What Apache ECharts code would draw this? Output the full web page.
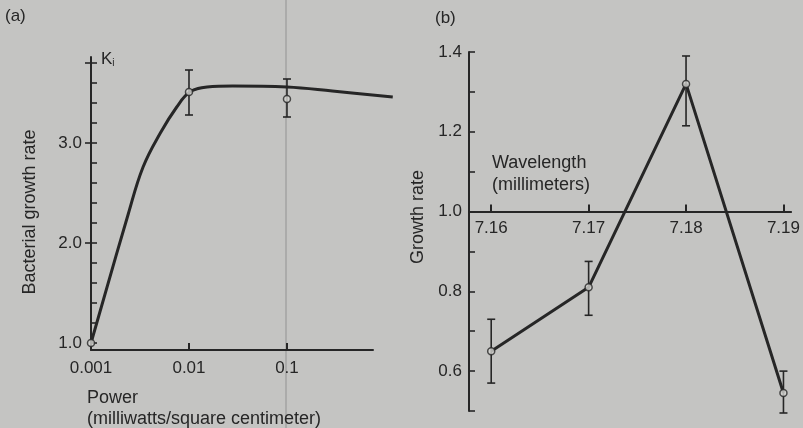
<!DOCTYPE html>
<html>
<head>
<meta charset="utf-8">
<script src="https://cdn.jsdelivr.net/npm/echarts@6/dist/echarts.min.js"></script>
<style>
  html, body { margin: 0; padding: 0; background: #c4c4c2; }
  #chart { width: 803px; height: 428px; }
</style>
</head>
<body>
<div id="chart"></div>
<script>
// panel (a): power (log scale) vs bacterial growth rate
var powerTicks = [0.001, 0.01, 0.1];
var rateTicks = [1.0, 2.0, 3.0];
var rateMinor = [1.0, 1.2, 1.4, 1.6, 1.8, 2.0, 2.2, 2.4, 2.6, 2.8, 3.0, 3.2, 3.4, 3.6, 3.8];
var curvePower = [0.001, 0.0024, 0.0034, 0.0051, 0.0075, 0.0102, 0.0153, 0.028, 0.1, 0.29, 1.2];
var curveRate = [1.0, 2.29, 2.76, 3.10, 3.36, 3.51, 3.56, 3.57, 3.56, 3.52, 3.46];
var pointPower = [0.001, 0.01, 0.1];
var pointRate = [1.0, 3.51, 3.44];
var pointLow = [null, 3.28, 3.26];
var pointHigh = [null, 3.73, 3.64];

// panel (b): wavelength vs growth rate
var waveTicks = [7.16, 7.17, 7.18, 7.19];
var growthTicks = [0.6, 0.8, 1.0, 1.2, 1.4];
var growthMinor = [0.5, 0.6, 0.7, 0.8, 0.9, 1.0, 1.1, 1.2, 1.3, 1.4];
var wavelength = [7.16, 7.17, 7.18, 7.19];
var growth = [0.65, 0.81, 1.32, 0.545];
var growthLow = [0.57, 0.74, 1.215, 0.495];
var growthHigh = [0.73, 0.875, 1.39, 0.60];

var ink = '#262626';
var paper = '#c4c4c2';
var font = 'Liberation Sans, Arial, sans-serif';

function pairs(xs, ys) {
  var out = [];
  for (var i = 0; i < xs.length; i++) {
    out.push([xs[i], ys[i]]);
  }
  return out;
}

function bars(xs, lo, hi) {
  var out = [];
  for (var i = 0; i < xs.length; i++) {
    if (lo[i] != null) out.push([xs[i], lo[i], hi[i]]);
  }
  return out;
}

// vertical error bar with small caps
function errorBar(params, api) {
  var x = api.value(0);
  var top = api.coord([x, api.value(2)]);
  var bot = api.coord([x, api.value(1)]);
  var w = 4;
  var st = { stroke: ink, lineWidth: 1.6 };
  return {
    type: 'group',
    children: [
      { type: 'line', shape: { x1: top[0], y1: top[1], x2: bot[0], y2: bot[1] }, style: st },
      { type: 'line', shape: { x1: top[0] - w, y1: top[1], x2: top[0] + w, y2: top[1] }, style: st },
      { type: 'line', shape: { x1: bot[0] - w, y1: bot[1], x2: bot[0] + w, y2: bot[1] }, style: st }
    ]
  };
}

var labelStyle = { color: ink, fontSize: 17, fontFamily: font };

var option = {
  backgroundColor: paper,
  animation: false,
  textStyle: { fontFamily: font, color: ink },
  grid: [
    { left: 91, top: 57, width: 282, height: 293 },
    { left: 469, top: 52, width: 334, height: 359 },
    // same scale as grid 0, but wide enough for the curve that runs past the axis end
    { left: 91, top: 57, width: 303.5, height: 293 }
  ],
  xAxis: [
    {
      type: 'log',
      gridIndex: 0,
      min: 0.001,
      max: 0.755,
      axisLine: { lineStyle: { color: ink, width: 2 } },
      axisTick: { inside: true, length: 7, lineStyle: { color: ink, width: 2 }, customValues: powerTicks },
      axisLabel: Object.assign({ margin: 10, customValues: powerTicks, formatter: function (v) { return String(+v.toPrecision(3)); } }, labelStyle),
      splitLine: { show: false }
    },
    {
      type: 'value',
      gridIndex: 1,
      min: 7.15772,
      max: 7.19079,
      offset: -199.4, // x axis crosses the y axis at 1.0
      axisLine: { onZero: false, lineStyle: { color: ink, width: 2 } },
      axisTick: { inside: true, length: 7, lineStyle: { color: ink, width: 2 }, customValues: waveTicks },
      axisLabel: Object.assign({ margin: 8, customValues: waveTicks, formatter: function (v) { return v.toFixed(2); } }, labelStyle),
      splitLine: { show: false }
    },
    {
      type: 'log',
      gridIndex: 2,
      min: 0.001,
      max: 1.25,
      show: false
    }
  ],
  yAxis: [
    {
      type: 'value',
      gridIndex: 0,
      position: 'left',
      min: 0.93,
      max: 3.86,
      axisLine: { show: true, lineStyle: { color: ink, width: 2 } },
      axisTick: { inside: true, length: 6, lineStyle: { color: ink, width: 1.6 }, customValues: rateMinor },
      axisLabel: { show: false },
      splitLine: { show: false }
    },
    {
      // major ticks poke outside and carry the labels
      type: 'value',
      gridIndex: 0,
      position: 'left',
      offset: 0,
      min: 0.93,
      max: 3.86,
      axisLine: { show: false },
      axisTick: { inside: false, length: 6, lineStyle: { color: ink, width: 1.6 }, customValues: [2.0, 3.0, 3.8] },
      axisLabel: Object.assign({ margin: 9, customValues: rateTicks, formatter: function (v) { return v.toFixed(1); } }, labelStyle),
      splitLine: { show: false }
    },
    {
      type: 'value',
      gridIndex: 1,
      position: 'left',
      min: 0.5,
      max: 1.4,
      axisLine: { show: true, lineStyle: { color: ink, width: 2 } },
      axisTick: { inside: true, length: 6, lineStyle: { color: ink, width: 1.6 }, customValues: growthMinor },
      axisLabel: Object.assign({ margin: 7, customValues: growthTicks, formatter: function (v) { return v.toFixed(1); } }, labelStyle),
      splitLine: { show: false }
    },
    {
      type: 'value',
      gridIndex: 2,
      min: 0.93,
      max: 3.86,
      show: false
    }
  ],
  series: [
    {
      type: 'line',
      xAxisIndex: 2,
      yAxisIndex: 3,
      data: pairs(curvePower, curveRate),
      smooth: 0.4,
      showSymbol: false,
      clip: false,
      lineStyle: { color: ink, width: 3 },
      z: 2
    },
    {
      type: 'custom',
      xAxisIndex: 0,
      yAxisIndex: 0,
      data: bars(pointPower, pointLow, pointHigh),
      encode: { x: 0, y: [1, 2] },
      renderItem: errorBar,
      z: 3
    },
    {
      type: 'scatter',
      xAxisIndex: 0,
      yAxisIndex: 0,
      data: pairs(pointPower, pointRate),
      symbol: 'circle',
      symbolSize: 7,
      itemStyle: { color: '#d6d6d2', borderColor: ink, borderWidth: 1.5 },
      z: 4
    },
    {
      type: 'line',
      xAxisIndex: 1,
      yAxisIndex: 2,
      data: pairs(wavelength, growth),
      showSymbol: false,
      clip: false,
      lineStyle: { color: ink, width: 3 },
      z: 2
    },
    {
      type: 'custom',
      xAxisIndex: 1,
      yAxisIndex: 2,
      data: bars(wavelength, growthLow, growthHigh),
      encode: { x: 0, y: [1, 2] },
      renderItem: errorBar,
      clip: false,
      z: 3
    },
    {
      type: 'scatter',
      xAxisIndex: 1,
      yAxisIndex: 2,
      data: pairs(wavelength, growth),
      symbol: 'circle',
      symbolSize: 7,
      clip: false,
      itemStyle: { color: '#d6d6d2', borderColor: ink, borderWidth: 1.5 },
      z: 4
    }
  ],
  graphic: [
    // faint fold line of the scanned page
    { type: 'rect', shape: { x: 285, y: 0, width: 2, height: 428 }, style: { fill: 'rgba(60,60,60,0.18)' }, silent: true, z: 0 },
    { type: 'text', left: 5, top: 8, style: { text: '(a)', fill: ink, font: '17px ' + font } },
    { type: 'text', left: 435, top: 10, style: { text: '(b)', fill: ink, font: '17px ' + font } },
    {
      type: 'text', x: 101, y: 50,
      style: {
        text: '{k|K}{s|i}', fill: ink,
        rich: { k: { fontSize: 17, fontFamily: font, fill: ink }, s: { fontSize: 10, fontFamily: font, fill: ink, padding: [8, 0, 0, 0] } }
      }
    },
    {
      type: 'text', x: 30, y: 212, rotation: Math.PI / 2,
      style: { text: 'Bacterial growth rate', fill: ink, font: '18px ' + font, textAlign: 'center', textVerticalAlign: 'middle' }
    },
    {
      type: 'text', x: 418, y: 217, rotation: Math.PI / 2,
      style: { text: 'Growth rate', fill: ink, font: '18px ' + font, textAlign: 'center', textVerticalAlign: 'middle' }
    },
    {
      type: 'text', left: 87, top: 388,
      style: { text: 'Power\n(milliwatts/square centimeter)', fill: ink, font: '18px ' + font, lineHeight: 21 }
    },
    {
      type: 'text', left: 492, top: 152,
      style: { text: 'Wavelength\n(millimeters)', fill: ink, font: '18px ' + font, lineHeight: 22 }
    }
  ]
};

var myChart = echarts.init(document.getElementById('chart'));
myChart.setOption(option);
</script>
</body>
</html>
